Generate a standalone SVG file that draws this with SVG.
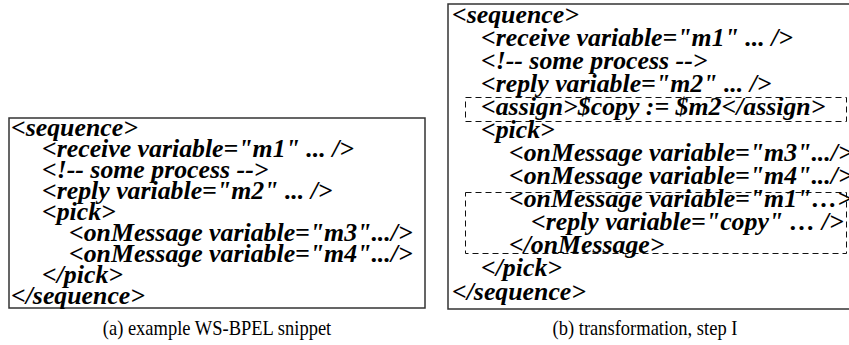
<svg xmlns="http://www.w3.org/2000/svg" width="849" height="345" viewBox="0 0 849 345">
<style>
.code{font-family:"Liberation Serif","Times New Roman",serif;font-weight:bold;font-style:italic;font-size:25.8px;fill:#000}
.cap{font-family:"Liberation Serif","Times New Roman",serif;font-size:18.5px;fill:#000;text-anchor:middle}
.box{fill:#fff;stroke:#333;stroke-width:1.5}
.dash{fill:none;stroke:#111;stroke-width:1;stroke-dasharray:6,4}
</style>
<rect width="849" height="345" fill="#fff"/>
<g id="snippet-a">
<rect class="box" x="9" y="118" width="416" height="190"/>
<text class="code" x="11" y="136">&lt;sequence&gt;</text>
<text class="code" x="42" y="157">&lt;receive variable="m1" ... /&gt;</text>
<text class="code" x="42" y="178">&lt;!-- some process --&gt;</text>
<text class="code" x="42" y="199">&lt;reply variable="m2" ... /&gt;</text>
<text class="code" x="42" y="220">&lt;pick&gt;</text>
<text class="code" x="69" y="241">&lt;onMessage variable="m3".../&gt;</text>
<text class="code" x="69" y="262">&lt;onMessage variable="m4".../&gt;</text>
<text class="code" x="42" y="283">&lt;/pick&gt;</text>
<text class="code" x="11" y="304">&lt;/sequence&gt;</text>
</g>
<g id="snippet-b">
<rect class="box" x="448" y="4" width="410" height="305"/>
<rect class="dash" x="465.5" y="97.5" width="381" height="24"/>
<rect class="dash" x="465.5" y="192.5" width="381" height="61"/>
<text class="code" x="452" y="23">&lt;sequence&gt;</text>
<text class="code" x="481" y="46">&lt;receive variable="m1" ... /&gt;</text>
<text class="code" x="481" y="69">&lt;!-- some process --&gt;</text>
<text class="code" x="481" y="92">&lt;reply variable="m2" ... /&gt;</text>
<text class="code" x="481" y="115">&lt;assign&gt;$copy := $m2&lt;/assign&gt;</text>
<text class="code" x="481" y="138">&lt;pick&gt;</text>
<text class="code" x="509" y="161">&lt;onMessage variable="m3".../&gt;</text>
<text class="code" x="509" y="184">&lt;onMessage variable="m4".../&gt;</text>
<text class="code" x="509" y="207">&lt;onMessage variable="m1"…&gt;</text>
<text class="code" x="531" y="230">&lt;reply variable="copy" … /&gt;</text>
<text class="code" x="509" y="253">&lt;/onMessage&gt;</text>
<text class="code" x="481" y="276">&lt;/pick&gt;</text>
<text class="code" x="452" y="300">&lt;/sequence&gt;</text>
</g>
<g id="captions">
<text class="cap" transform="translate(217,335) scale(1,1.12)">(a) example WS-BPEL snippet</text>
<text class="cap" transform="translate(645,335) scale(1,1.12)">(b) transformation, step I</text>
</g>
</svg>
